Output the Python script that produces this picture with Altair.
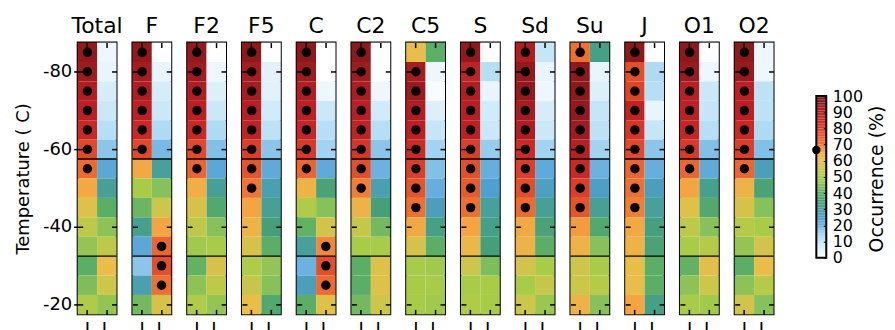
import altair as alt
import pandas as pd

temps = [-85, -80, -75, -70, -65, -60, -55, -50, -45, -40, -35, -30, -25, -20]
panels = ["Total", "F", "F2", "F5", "C", "C2", "C5", "S", "Sd", "Su", "J", "O1", "O2"]
columns = ["I", "L"]

total_I = [96, 94, 91, 89, 86, 78, 72, 64, 58, 53, 47, 40, 44, 51]
total_L = [3, 4, 7, 9, 12, 17, 23, 31, 40, 46, 53, 60, 55, 47]
f_I = [96, 93, 91, 89, 86, 78, 64, 50, 42, 32, 23, 17, 28, 43]
f_L = [0, 4, 7, 9, 13, 19, 30, 45, 55, 65, 73, 77, 71, 57]
f2_I = [96, 94, 91, 89, 86, 78, 73, 63, 57, 53, 49, 41, 46, 51]
f2_L = [0, 3, 6, 9, 13, 18, 23, 31, 38, 45, 50, 57, 53, 47]
f5_I = [97, 93, 93, 90, 88, 80, 76, 70, 65, 62, 57, 51, 54, 60]
f5_L = [0, 5, 5, 8, 11, 17, 22, 28, 31, 35, 40, 47, 45, 38]
c_I = [97, 94, 91, 89, 87, 81, 73, 62, 51, 41, 30, 20, 27, 40]
c_L = [0, 0, 3, 9, 12, 15, 22, 36, 45, 56, 68, 77, 72, 58]
c2_I = [97, 94, 92, 90, 88, 82, 77, 69, 62, 54, 50, 40, 40, 43]
c2_L = [0, 0, 3, 8, 12, 17, 20, 28, 35, 43, 50, 58, 58, 55]
c5_I = [60, 93, 95, 91, 89, 85, 80, 76, 71, 64, 57, 50, 50, 50]
c5_L = [40, 3, 1, 6, 10, 15, 18, 21, 27, 33, 40, 49, 50, 49]
s_I = [96, 88, 91, 90, 89, 80, 77, 75, 71, 65, 61, 55, 50, 51]
s_L = [0, 12, 4, 8, 9, 16, 21, 25, 30, 33, 35, 44, 50, 50]
sd_I = [91, 96, 96, 93, 91, 85, 80, 77, 72, 64, 62, 56, 50, 55]
sd_L = [10, 4, 3, 7, 9, 15, 22, 26, 31, 36, 40, 50, 54, 48]
su_I = [71, 97, 97, 96, 94, 90, 86, 80, 76, 66, 62, 55, 55, 62]
su_L = [33, 4, 6, 10, 11, 15, 20, 26, 31, 38, 45, 50, 52, 45]
j_I = [97, 77, 79, 88, 82, 78, 73, 71, 69, 64, 62, 60, 60, 65]
j_L = [0, 13, 12, 4, 10, 17, 21, 27, 30, 34, 36, 40, 40, 33]
o1_I = [97, 95, 90, 89, 87, 81, 73, 65, 58, 53, 50, 41, 46, 50]
o1_L = [0, 3, 9, 10, 12, 18, 22, 32, 38, 45, 52, 59, 55, 49]
o2_I = [97, 95, 89, 89, 86, 80, 73, 62, 57, 52, 47, 40, 46, 56]
o2_L = [3, 3, 11, 11, 13, 18, 27, 36, 45, 50, 56, 60, 52, 45]

series = {
    "Total": (total_I, total_L), "F": (f_I, f_L), "F2": (f2_I, f2_L),
    "F5": (f5_I, f5_L), "C": (c_I, c_L), "C2": (c2_I, c2_L), "C5": (c5_I, c5_L),
    "S": (s_I, s_L), "Sd": (sd_I, sd_L), "Su": (su_I, su_L), "J": (j_I, j_L),
    "O1": (o1_I, o1_L), "O2": (o2_I, o2_L),
}

boundaries = [-57.5, -32.5]
y_ticks = [-80, -60, -40, -20]
threshold = 66.7
cbar_ticks = [0, 10, 20, 30, 40, 50, 60, 70, 80, 90, 100]
color_stops = [0, 5, 10, 15, 20, 25, 30, 35, 40, 45, 50, 55, 60, 65, 70, 75, 80, 85, 90, 95, 100]
color_hex = ["#ffffff", "#e2f2fb", "#c4e6f7", "#a0d4f1", "#6cb2e0", "#4f9fcf", "#47a099",
             "#45a07a", "#5aae66", "#86c15a", "#a8cc48", "#ccc64a", "#e8bd48", "#f5a442",
             "#f0762f", "#e85a2a", "#dc3e28", "#cd2a26", "#b81e22", "#9a1a1e", "#7f1416"]

FONT = "DejaVu Sans"

rows = []
for p in panels:
    for ci, col in enumerate(columns):
        for t, v in zip(temps, series[p][ci]):
            rows.append({"panel": p, "col": col, "temp": t, "value": v})
df = pd.DataFrame(rows)
df["y0"] = df["temp"] - 2.5
df["y1"] = df["temp"] + 2.5

color_scale = alt.Scale(domain=color_stops, range=color_hex, interpolate="rgb")
y_scale = alt.Scale(domain=[-87.5, -17.5], reverse=True, nice=False, zero=False)
x_scale = alt.Scale(domain=columns, paddingInner=0, paddingOuter=0)

tick_style = dict(tickWidth=1.5, tickColor="black", domain=False,
                  grid=False, zindex=2, offset=-5)


def make_panel(name, first):
    d = df[df["panel"] == name]
    base = alt.Chart(d)
    rect = base.mark_rect().encode(
        x=alt.X("col:N", scale=x_scale, axis=alt.Axis(
            orient="bottom", title=None, labelAngle=0, labelPadding=6, tickSize=5,
            labelFontSize=18, labelFont=FONT, labelColor="black", **tick_style)),
        y=alt.Y("y0:Q", scale=y_scale, axis=alt.Axis(
            orient="left", values=y_ticks, labels=first, labelPadding=2,
            tickSize=9 if first else 5,
            labelExpr="'' + datum.value",
            labelFontSize=18, labelFont=FONT, labelColor="black",
            title="Temperature ( C)" if first else None, titleFontSize=18,
            titleFont=FONT, titleFontWeight="normal", titlePadding=10,
            titleColor="black", **tick_style)),
        y2="y1:Q",
        color=alt.Color("value:Q", scale=color_scale, legend=None),
    )
    rules = alt.Chart(pd.DataFrame({"b": boundaries})).mark_rule(
        color="black", strokeWidth=1.5).encode(
        y=alt.Y("b:Q", scale=y_scale, axis=None))
    dots = base.transform_filter(alt.datum.value >= threshold).mark_circle(
        color="black", size=90, opacity=1).encode(
        x=alt.X("col:N", scale=x_scale, axis=alt.Axis(
            orient="top", labels=False, title=None, minExtent=0, maxExtent=0,
            tickSize=5, **tick_style)),
        y=alt.Y("temp:Q", scale=y_scale, axis=alt.Axis(
            orient="right", values=y_ticks, labels=False, title=None,
            minExtent=0, maxExtent=0, tickSize=5, **tick_style)),
    )
    return alt.layer(rect, rules, dots).resolve_axis(
        x="independent", y="independent").properties(
        width=39, height=273,
        title=alt.TitleParams(name, fontSize=22, font=FONT, fontWeight="normal",
                              baseline="alphabetic", offset=-13, color="black",
                              frame="group"))


panel_charts = [make_panel(p, i == 0) for i, p in enumerate(panels)]

cb = pd.DataFrame({"v": list(range(0, 100))})
cb["v2"] = cb["v"] + 1
cb["mid"] = cb["v"] + 0.5
cb_scale = alt.Scale(domain=[-35, 133.1], nice=False, zero=False)
CB_LEFT, CB_RIGHT = 27, 37

cbar_rect = alt.Chart(cb).mark_rect().encode(
    x=alt.value(CB_LEFT), x2=alt.value(CB_RIGHT),
    y=alt.Y("v:Q", scale=cb_scale, axis=alt.Axis(
        orient="right", values=cbar_ticks, offset=-3, tickSize=3, tickColor="black",
        domain=False, grid=False, labelPadding=6, labelFontSize=16, labelFont=FONT,
        labelColor="black", labelOverlap=False, labelBound=False, labelFlush=False,
        title="Occurrence (%)",
        titleAngle=270, titleFontSize=19,
        titleFont=FONT, titleFontWeight="normal", titleColor="black", titlePadding=24,
        titleBaseline="bottom", zindex=2)),
    y2="v2:Q",
    color=alt.Color("mid:Q", scale=color_scale, legend=None),
)
cbar_border = alt.Chart(pd.DataFrame({"lo": [0], "hi": [100]})).mark_rect(
    fillOpacity=0, stroke="black", strokeWidth=2).encode(
    x=alt.value(CB_LEFT), x2=alt.value(CB_RIGHT),
    y=alt.Y("lo:Q", scale=cb_scale, axis=None), y2="hi:Q")
cbar_dot = alt.Chart(pd.DataFrame({"t": [threshold]})).mark_circle(
    color="black", size=70, opacity=1).encode(
    y=alt.Y("t:Q", scale=cb_scale, axis=None), x=alt.value(CB_LEFT))
cbar = alt.layer(cbar_rect, cbar_border, cbar_dot).resolve_axis(
    y="independent").properties(
    width=CB_RIGHT, height=273, view=alt.ViewBackground(stroke=None))

chart = alt.HConcatChart(
    hconcat=panel_charts + [cbar], spacing=16, bounds="flush",
    padding={"left": 5, "top": 5, "right": 0, "bottom": 0},
    background="white",
).configure_view(stroke="black", strokeWidth=2)

chart.save("out.html", embed_options={"renderer": "svg", "actions": False})
